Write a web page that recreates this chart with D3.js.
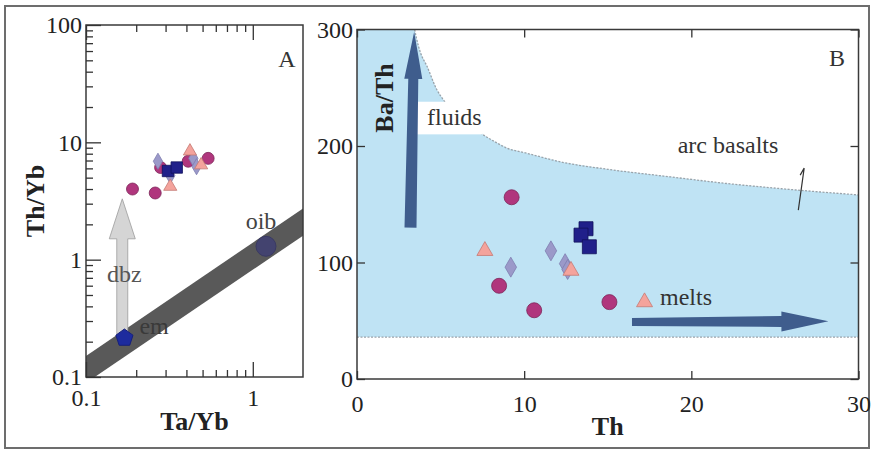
<!DOCTYPE html>
<html><head><meta charset="utf-8">
<script src="https://cdn.jsdelivr.net/npm/d3@7"></script>
<style>
body{margin:0;background:#fff}
svg{display:block}
text{font-family:"Liberation Serif","Times New Roman",serif;}
</style>
</head><body>
<svg id="chart" width="875" height="451"></svg>
<script>
// ---------- Panel A data (Ta/Yb vs Th/Yb, log-log) ----------
const aXTicks = [0.1, 1];
const aYTicks = [0.1, 1, 10, 100];
const aXTickLabels = ["0.1", "1"];
const aYTickLabels = ["0.1", "1", "10", "100"];
const aCircleX = [0.19, 0.26, 0.28, 0.41, 0.54];
const aCircleY = [4.0, 3.7, 6.1, 6.9, 7.3];
const aDiamondX = [0.27, 0.32, 0.44, 0.46];
const aDiamondY = [6.9, 5.2, 7.3, 6.2];
const aTriangleX = [0.32, 0.42, 0.49];
const aTriangleY = [4.2, 8.4, 6.4];
const aSquareX = [0.31, 0.35];
const aSquareY = [5.7, 6.1];
const bandX = [0.1, 2];
const bandLow = [0.089, 1.6];
const bandHigh = [0.151, 2.73];
const emPoint = [0.17, 0.215];
const oibPoint = [1.2, 1.3];
const dbzArrowX = [0.165, 0.165];
const dbzArrowY = [0.23, 3.3];

// ---------- Panel B data (Th vs Ba/Th) ----------
const bXTicks = [0, 10, 20, 30];
const bYTicks = [0, 100, 200, 300];
const bCircleX = [9.25, 8.5, 10.6, 15.1];
const bCircleY = [156, 80, 59, 66];
const bDiamondX = [9.2, 11.6, 12.45, 12.6];
const bDiamondY = [96, 110, 99, 94];
const bTriangleX = [7.65, 12.8, 17.2];
const bTriangleY = [110, 93, 66];
const bSquareX = [13.7, 13.4, 13.9];
const bSquareY = [129, 123.5, 113.5];
const arcTh =   [3.45, 3.55, 3.8, 4.17, 4.77, 5.2, 6.0, 7.3, 8.2, 9.0, 10.1, 12.3, 15.0, 18.75, 22.0, 25.2, 30.0];
const arcBaTh = [300,  293,  280, 269,  248.5, 239, 228, 212, 204, 198, 194,  186,  180,  173.5, 168,  163.6, 158];
const arcFloor = 36;
const fluidsArrowX = [3.2, 3.42];
const fluidsArrowY = [130, 298];
const meltsArrowX = [16.45, 28.2];
const meltsArrowY = [49, 49.5];
const smallArrowX = [26.4, 26.75];
const smallArrowY = [145, 181];
const fluidsBoxX = [3.6, 7.5];
const fluidsBoxY = [210, 238];

// ---------- helpers ----------
const svg = d3.select("#chart");
const circleC = {fill:"#b0367d", stroke:"#7c2558"};
const diamondC = {fill:"#9b99c9", stroke:"#7f7db0"};
const triangleC = {fill:"#f4a39c", stroke:"#c47a74"};
const squareC = {fill:"#20208a", stroke:"#12125c"};

function symbols(g, xs, ys, sx, sy, type, size, c){
  g.append("g").selectAll("path").data(d3.zip(xs, ys)).join("path")
    .attr("transform", d => `translate(${sx(d[0])},${sy(d[1])})`)
    .attr("d", d3.symbol(type, size))
    .attr("fill", c.fill).attr("stroke", c.stroke).attr("stroke-width", 0.8);
}
function arrowPath(x0,y0,x1,y1,wt,ws,wh,hl){
  const dx=x1-x0, dy=y1-y0, L=Math.hypot(dx,dy), ux=dx/L, uy=dy/L, nx=-uy, ny=ux;
  const bx=x1-ux*hl, by=y1-uy*hl;
  const pts=[[x0+nx*wt/2,y0+ny*wt/2],[bx+nx*ws/2,by+ny*ws/2],[bx+nx*wh/2,by+ny*wh/2],[x1,y1],
             [bx-nx*wh/2,by-ny*wh/2],[bx-nx*ws/2,by-ny*ws/2],[x0-nx*wt/2,y0-ny*wt/2]];
  return d3.line()(pts)+"Z";
}
const tickFont = 24, titleFont = 26, noteFont = 24;

// outer frame
svg.append("rect").attr("x",5).attr("y",6).attr("width",864).attr("height",442)
  .attr("fill","none").attr("stroke","#6d6d6d").attr("stroke-width",2);

// ================= Panel A =================
const A = {l:86, t:25, r:303, b:377};
const ax = d3.scaleLog().domain([0.1, 2]).range([A.l, A.r]);
const ay = d3.scaleLog().domain([0.1, 100]).range([A.b, A.t]);
const gA = svg.append("g");
svg.append("defs").append("clipPath").attr("id","clipA").append("rect")
  .attr("x",A.l).attr("y",A.t).attr("width",A.r-A.l).attr("height",A.b-A.t);

// band
const bandPts = bandX.map((x,i)=>[ax(x), ay(bandLow[i])])
  .concat(bandX.map((x,i)=>[ax(x), ay(bandHigh[i])]).reverse());
gA.append("path").attr("d", d3.line()(bandPts)+"Z").attr("fill","#595959")
  .attr("clip-path","url(#clipA)");

// dbz arrow
gA.append("path").attr("d", arrowPath(ax(dbzArrowX[0]), ay(dbzArrowY[0]), ax(dbzArrowX[1]), ay(dbzArrowY[1]), 11, 11, 26, 40))
  .attr("fill","#d5d5d5").attr("stroke","#9c9c9c").attr("stroke-width",0.8);

// em pentagon
const pr = 9;
const pent = d3.range(5).map(i => {
  const a = -Math.PI/2 + i*2*Math.PI/5;
  return [ax(emPoint[0]) + pr*Math.cos(a), ay(emPoint[1]) + pr*Math.sin(a)];
});
gA.append("path").attr("d", d3.line()(pent)+"Z").attr("fill","#1d2b9e").attr("stroke","#16207a");
// oib circle
gA.append("circle").attr("cx", ax(oibPoint[0])).attr("cy", ay(oibPoint[1])).attr("r", 10)
  .attr("fill","#43436f").attr("stroke","#3a3a62");

// data symbols
symbols(gA, aCircleX, aCircleY, ax, ay, d3.symbolCircle, 113, circleC);
symbols(gA, aDiamondX, aDiamondY, ax, ay, d3.symbolDiamond, 75, diamondC);
symbols(gA, aTriangleX, aTriangleY, ax, ay, d3.symbolTriangle, 75, triangleC);
symbols(gA, aSquareX, aSquareY, ax, ay, d3.symbolSquare, 130, squareC);

// frame
gA.append("rect").attr("x",A.l).attr("y",A.t).attr("width",A.r-A.l).attr("height",A.b-A.t)
  .attr("fill","none").attr("stroke","#3a3a3a").attr("stroke-width",1.5);

// minor ticks
const aXMinor = d3.range(2,10).map(d=>d/10);
const aYMinor = [];
[0.1,1,10].forEach(dec => d3.range(2,10).forEach(k => aYMinor.push(dec*k)));
function tickStyle(sel){ sel.select(".domain").remove(); sel.selectAll("line").attr("stroke","#333").attr("stroke-width",1.3); }

gA.append("g").attr("transform",`translate(0,${A.b})`)
  .call(d3.axisBottom(ax).tickValues(aXMinor).tickSize(-7).tickFormat("")).call(tickStyle);
gA.append("g").attr("transform",`translate(0,${A.t})`)
  .call(d3.axisTop(ax).tickValues(aXMinor).tickSize(-7).tickFormat("")).call(tickStyle);
gA.append("g").attr("transform",`translate(0,${A.b})`)
  .call(d3.axisBottom(ax).tickValues(aXTicks).tickSize(-15).tickPadding(12).tickFormat((d,i)=>aXTickLabels[i])).call(tickStyle);
gA.append("g").attr("transform",`translate(0,${A.t})`)
  .call(d3.axisTop(ax).tickValues(aXTicks).tickSize(-15).tickFormat("")).call(tickStyle);
gA.append("g").attr("transform",`translate(${A.l},0)`)
  .call(d3.axisLeft(ay).tickValues(aYMinor).tickSize(-7).tickFormat("")).call(tickStyle);
gA.append("g").attr("transform",`translate(${A.l},0)`)
  .call(d3.axisLeft(ay).tickValues(aYTicks).tickSize(-15).tickPadding(4).tickFormat((d,i)=>aYTickLabels[i])).call(tickStyle);
gA.selectAll("text").attr("font-size",tickFont).attr("fill","#222").attr("font-family","Liberation Serif");

// annotations A
gA.append("text").attr("x",287).attr("y",67).attr("text-anchor","middle").attr("font-size",noteFont).attr("fill","#333").text("A");
gA.append("text").attr("x",ax(dbzArrowX[0])+2).attr("y",282).attr("text-anchor","middle").attr("font-size",noteFont).attr("fill","#555").text("dbz");
gA.append("text").attr("x",ax(emPoint[0])+15).attr("y",ay(emPoint[1])-4).attr("font-size",noteFont).attr("fill","#3a3a3a").text("em");
gA.append("text").attr("x",ax(oibPoint[0])-5).attr("y",ay(oibPoint[1])-17).attr("text-anchor","middle").attr("font-size",noteFont).attr("fill","#444").text("oib");
// titles A
gA.append("text").attr("x",(A.l+A.r)/2).attr("y",430).attr("text-anchor","middle").attr("font-size",titleFont).attr("font-weight","bold").attr("fill","#222").text("Ta/Yb");
gA.append("text").attr("transform",`translate(44,201) rotate(-90)`).attr("text-anchor","middle").attr("font-size",titleFont).attr("font-weight","bold").attr("fill","#222").text("Th/Yb");

// ================= Panel B =================
const B = {l:357, t:29.5, r:858.5, b:379};
const bx = d3.scaleLinear().domain([0,30]).range([B.l, B.r]);
const by = d3.scaleLinear().domain([0,300]).range([B.b, B.t]);
const gB = svg.append("g");

// blue field
const field = [[bx(0), by(arcFloor)], [bx(0), by(300)]]
  .concat(arcTh.map((t,i)=>[bx(t), by(arcBaTh[i])]))
  .concat([[bx(30), by(arcFloor)]]);
gB.append("path").attr("d", d3.line()(field)+"Z").attr("fill","#bfe3f4");
gB.append("path").attr("d", d3.line().curve(d3.curveMonotoneX)(arcTh.map((t,i)=>[bx(t), by(arcBaTh[i])])))
  .attr("fill","none").attr("stroke","#9aa3aa").attr("stroke-width",1.3).attr("stroke-dasharray","2,1.5");
gB.append("line").attr("x1",bx(0)).attr("x2",bx(30)).attr("y1",by(arcFloor)).attr("y2",by(arcFloor))
  .attr("stroke","#9aa3aa").attr("stroke-width",1.3).attr("stroke-dasharray","2,1.5");

// fluids label box
gB.append("rect").attr("x",bx(fluidsBoxX[0])).attr("y",by(fluidsBoxY[1]))
  .attr("width",bx(fluidsBoxX[1])-bx(fluidsBoxX[0])).attr("height",by(fluidsBoxY[0])-by(fluidsBoxY[1]))
  .attr("fill","#fff");

// arrows
gB.append("path").attr("d", arrowPath(bx(fluidsArrowX[0]), by(fluidsArrowY[0]), bx(fluidsArrowX[1]), by(fluidsArrowY[1]), 12, 10, 18, 47))
  .attr("fill","#3f5d8d");
gB.append("path").attr("d", arrowPath(bx(meltsArrowX[0]), by(meltsArrowY[0]), bx(meltsArrowX[1]), by(meltsArrowY[1]), 8, 11, 20, 47))
  .attr("fill","#3f5d8d");
const sx0 = bx(smallArrowX[0]), sy0 = by(smallArrowY[0]), sx1 = bx(smallArrowX[1]), sy1 = by(smallArrowY[1]);
gB.append("path").attr("d", d3.line()([[sx0,sy0],[sx1,sy1],[sx1-4,sy1+7]]))
  .attr("fill","none").attr("stroke","#333").attr("stroke-width",1.2);

// symbols
symbols(gB, bCircleX, bCircleY, bx, by, d3.symbolCircle, 177, circleC);
symbols(gB, bDiamondX, bDiamondY, bx, by, d3.symbolDiamond, 115, diamondC);
symbols(gB, bTriangleX, bTriangleY, bx, by, d3.symbolTriangle, 111, triangleC);
symbols(gB, bSquareX, bSquareY, bx, by, d3.symbolSquare, 196, squareC);

// frame
gB.append("rect").attr("x",B.l).attr("y",B.t).attr("width",B.r-B.l).attr("height",B.b-B.t)
  .attr("fill","none").attr("stroke","#3a3a3a").attr("stroke-width",1.5);

gB.append("g").attr("transform",`translate(0,${B.b})`)
  .call(d3.axisBottom(bx).tickValues(bXTicks).tickSize(-8).tickPadding(16).tickFormat(d3.format("d"))).call(tickStyle);
gB.append("g").attr("transform",`translate(0,${B.t})`)
  .call(d3.axisTop(bx).tickValues(bXTicks).tickSize(-8).tickFormat("")).call(tickStyle);
gB.append("g").attr("transform",`translate(${B.l},0)`)
  .call(d3.axisLeft(by).tickValues(bYTicks).tickSize(-8).tickPadding(4).tickFormat(d3.format("d"))).call(tickStyle);
gB.append("g").attr("transform",`translate(${B.r},0)`)
  .call(d3.axisRight(by).tickValues(bYTicks).tickSize(-8).tickFormat("")).call(tickStyle);
gB.selectAll("text").attr("font-size",tickFont).attr("fill","#222").attr("font-family","Liberation Serif");

// annotations B
gB.append("text").attr("x",837).attr("y",66).attr("text-anchor","middle").attr("font-size",noteFont).attr("fill","#333").text("B");
gB.append("text").attr("x",427).attr("y",125).attr("font-size",noteFont).attr("fill","#333").text("fluids");
gB.append("text").attr("x",728).attr("y",153).attr("text-anchor","middle").attr("font-size",noteFont).attr("fill","#333").text("arc basalts");
gB.append("text").attr("x",660).attr("y",305).attr("font-size",noteFont).attr("fill","#333").text("melts");
// titles B
gB.append("text").attr("x",(B.l+B.r)/2).attr("y",435).attr("text-anchor","middle").attr("font-size",titleFont).attr("font-weight","bold").attr("fill","#222").text("Th");
gB.append("text").attr("transform",`translate(393,98) rotate(-90)`).attr("text-anchor","middle").attr("font-size",titleFont).attr("font-weight","bold").attr("fill","#222").text("Ba/Th");
</script>
</body></html>
